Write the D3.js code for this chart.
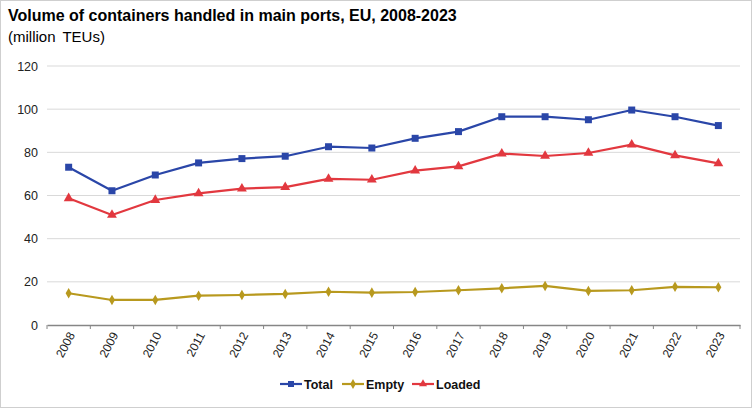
<!DOCTYPE html>
<html><head><meta charset="utf-8">
<script src="https://cdn.jsdelivr.net/npm/d3@7"></script>
<style>
body{margin:0;background:#fff;}
svg{display:block;font-family:"Liberation Sans",Arial,sans-serif;}
</style></head>
<body>
<svg id="c" width="753" height="408"></svg>
<script>
const years = ["2008","2009","2010","2011","2012","2013","2014","2015","2016","2017","2018","2019","2020","2021","2022","2023"];
const total  = [73.1,62.2,69.5,75.1,77.1,78.2,82.6,82.0,86.5,89.6,96.5,96.5,95.1,99.6,96.5,92.4];
const empty  = [14.7,11.6,11.6,13.6,13.9,14.4,15.4,15.0,15.3,16.1,17.0,18.1,15.8,16.1,17.7,17.5];
const loaded = [58.7,51.0,57.9,61.0,63.2,63.9,67.7,67.3,71.5,73.5,79.4,78.3,79.7,83.6,78.6,74.9];
const yTicks = [0,20,40,60,80,100,120];
const seriesNames = ["Total","Empty","Loaded"];
const seriesColors = ["#2a46a8","#b8991e","#e2383f"];
const seriesData = [total, empty, loaded];
const symbols = [d3.symbolSquare, d3.symbolDiamond, d3.symbolTriangle];

const svg = d3.select("#c");
svg.append("rect").attr("x",0.5).attr("y",0.5).attr("width",751).attr("height",407)
  .attr("fill","#fff").attr("stroke","#cfcfcf");

svg.append("text").attr("x",8).attr("y",21).attr("font-size",16).attr("font-weight","bold")
  .attr("fill","#000").text("Volume of containers handled in main ports, EU, 2008-2023");
svg.append("text").attr("x",8).attr("y",42).attr("font-size",15).attr("word-spacing",3)
  .attr("fill","#000").text("(million TEUs)");

const x = d3.scaleBand().domain(years).range([47,740]);
const y = d3.scaleLinear().domain([0,120]).range([325,66]);

// gridlines
svg.append("g").selectAll("line").data(yTicks.filter(d=>d>0)).join("line")
  .attr("x1",47).attr("x2",740).attr("y1",d=>y(d)).attr("y2",d=>y(d))
  .attr("stroke","#d9d9d9").attr("stroke-width",1);

// y axis labels
const ya = svg.append("g").attr("transform","translate(47,0)")
  .call(d3.axisLeft(y).tickValues(yTicks).tickSize(0).tickPadding(9));
ya.select(".domain").remove();
ya.selectAll("text").attr("font-size",12.5).attr("fill","#222").attr("font-family","Liberation Sans,Arial,sans-serif");

// x axis
const xa = svg.append("g").attr("transform","translate(0,325)")
  .call(d3.axisBottom(x).tickSize(0).tickPadding(0));
xa.select(".domain").attr("stroke","#868686").attr("stroke-width",1.5);
xa.selectAll(".tick line").remove();
const bounds = years.map(d=>x(d)).concat([x(years[years.length-1])+x.bandwidth()]);
xa.selectAll("line.bt").data(bounds).join("line").attr("class","bt")
  .attr("x1",d=>d).attr("x2",d=>d).attr("y1",0).attr("y2",4).attr("stroke","#868686").attr("stroke-width",1);
xa.selectAll(".tick text")
  .attr("font-size",12).attr("fill","#222").attr("font-family","Liberation Sans,Arial,sans-serif")
  .attr("text-anchor","end").attr("dy","0.35em")
  .attr("transform","translate(3,8) rotate(-62)");

// lines
const line = d3.line().x((d,i)=>x(years[i])+x.bandwidth()/2).y(d=>y(d));
const order = [1,2,0];
order.forEach(k=>{
  const g = svg.append("g");
  g.append("path").datum(seriesData[k]).attr("d",line).attr("fill","none")
    .attr("stroke",seriesColors[k]).attr("stroke-width",2.2).attr("stroke-linejoin","round");
  const sz = k===0?49:(k===1?32:42);
  g.selectAll("path.m").data(seriesData[k]).join("path").attr("class","m")
    .attr("d",d3.symbol().type(symbols[k]).size(sz))
    .attr("transform",(d,i)=>`translate(${x(years[i])+x.bandwidth()/2},${y(d)})`)
    .attr("fill",seriesColors[k]);
});

// legend
const legX = [280,342,412];
const lg = svg.append("g");
seriesNames.forEach((n,k)=>{
  const gx = legX[k], gy = 384;
  lg.append("line").attr("x1",gx).attr("x2",gx+22).attr("y1",gy).attr("y2",gy)
    .attr("stroke",seriesColors[k]).attr("stroke-width",2.2);
  lg.append("path").attr("d",d3.symbol().type(symbols[k]).size(k===0?36:28)())
    .attr("transform",`translate(${gx+11},${gy})`).attr("fill",seriesColors[k]);
  lg.append("text").attr("x",gx+24).attr("y",gy+4.5).attr("font-size",12.5).attr("font-weight","bold")
    .attr("font-family","'Liberation Sans Narrow','Arial Narrow',sans-serif")
    .attr("fill","#111").text(n);
});
</script>
</body></html>
